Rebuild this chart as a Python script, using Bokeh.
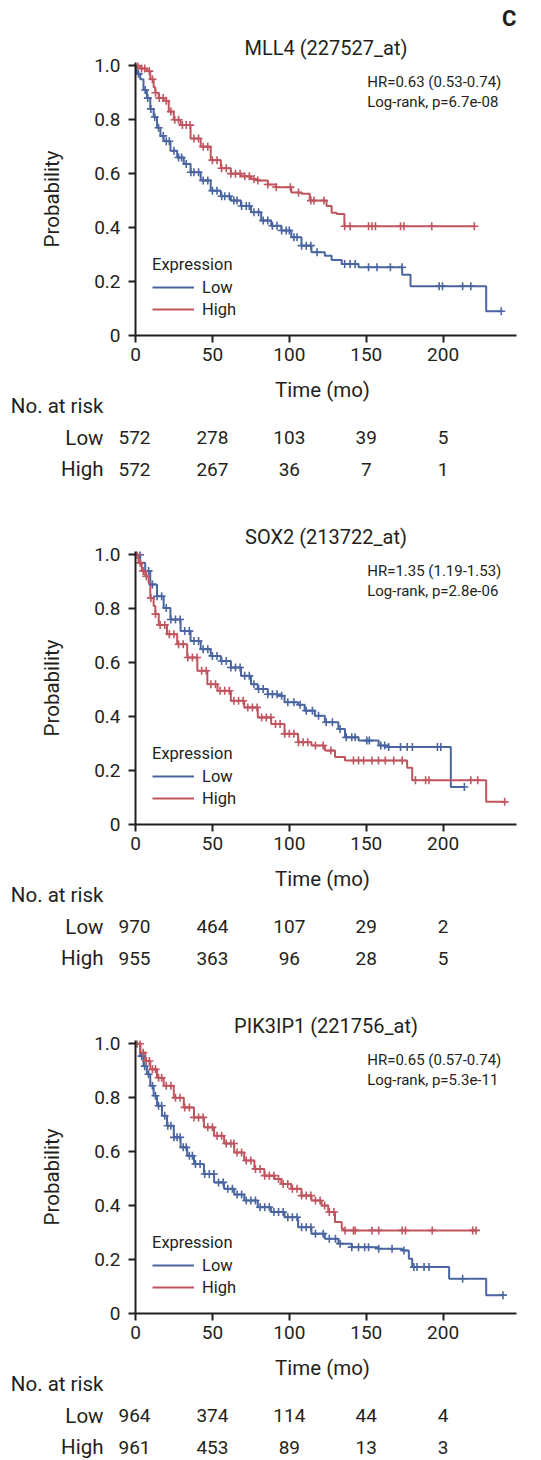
import numpy as np
from bokeh.plotting import figure
from bokeh.layouts import column
from bokeh.models import Range1d, FixedTicker, Label, Legend, LegendItem, Title, LinearAxis
from bokeh.core.properties import value
from bokeh.embed import file_html
from bokeh.resources import INLINE

FONT = "Roboto"
INK = "#231f20"
BLUE = "#4a65a0"
RED = "#c0555f"

# ---------------- data ----------------
x_ticks = [0, 50, 100, 150, 200]
y_ticks = [0, 0.2, 0.4, 0.6, 0.8, 1.0]
y_tick_labels = ["0", "0.2", "0.4", "0.6", "0.8", "1.0"]

titles = ["MLL4 (227527_at)", "SOX2 (213722_at)", "PIK3IP1 (221756_at)"]
hr_lines = ["HR=0.63 (0.53-0.74)", "HR=1.35 (1.19-1.53)", "HR=0.65 (0.57-0.74)"]
p_lines = ["Log-rank, p=6.7e-08", "Log-rank, p=2.8e-06", "Log-rank, p=5.3e-11"]

risk_groups = ["Low", "High"]
risk_low = [[572, 278, 103, 39, 5], [970, 464, 107, 29, 2], [964, 374, 114, 44, 4]]
risk_high = [[572, 267, 36, 7, 1], [955, 363, 96, 28, 5], [961, 453, 89, 13, 3]]

# MLL4
mll4_low_t = [0, 0.9, 3.1, 5.2, 7.4, 9.6, 11.8, 14, 16.2, 18.3, 22.7, 27.1, 31.4, 35.8, 42.4, 48.9,
              55.5, 62, 68.6, 75.1, 81.7, 88.2, 94.8, 101.3, 107.9, 114.4, 123.1, 127.5, 134.1, 145,
              173.4, 178.8, 228, 237.8]
mll4_low_s = [1.0, 0.97, 0.95, 0.91, 0.88, 0.84, 0.81, 0.77, 0.74, 0.72, 0.685, 0.66, 0.636, 0.605,
              0.575, 0.537, 0.516, 0.50, 0.48, 0.457, 0.426, 0.407, 0.389, 0.364, 0.333, 0.309, 0.296,
              0.28, 0.265, 0.253, 0.225, 0.183, 0.09, 0.09]
mll4_low_c = [2, 6.3, 8, 10, 12.5, 15, 18, 20, 22, 25, 28, 30, 33, 36, 38, 41, 44, 47, 50, 53, 56,
              58, 61, 64, 66, 69, 72, 74, 77, 80, 83, 86, 89, 92, 95, 98, 100, 103, 105, 108, 111,
              114, 118, 136, 139.5, 142.8, 151.5, 157, 165.7, 173.3, 197.4, 199.6, 212.7, 218, 237.8]
mll4_high_t = [0, 3.1, 7.4, 9.6, 11.8, 12.9, 15.1, 18.3, 21.6, 24.9, 29.3, 35.8, 42.4, 48.9, 55.5,
               62, 68.6, 75.1, 79.5, 86, 91.5, 101.3, 107.9, 113.3, 124.2, 127.5, 130.8, 135.8, 220.3]
mll4_high_s = [1.0, 0.99, 0.98, 0.95, 0.92, 0.90, 0.88, 0.87, 0.83, 0.80, 0.78, 0.73, 0.70, 0.65,
               0.62, 0.60, 0.59, 0.58, 0.575, 0.56, 0.55, 0.53, 0.525, 0.50, 0.48, 0.455, 0.45,
               0.405, 0.405]
mll4_high_c = [1.5, 4, 6, 9, 11, 13, 15.5, 18, 20, 23, 25.5, 28, 30.5, 33, 35.5, 38, 41, 44, 47,
               50, 53, 56, 59, 62, 65, 68, 71, 74, 77, 79.5, 86, 91.5, 100.7, 106, 114, 116,
               122.5, 136, 139.5, 151.5, 153.7, 156, 172.3, 174.5, 192.6, 220.3]

# SOX2
sox2_low_t = [0, 3.1, 6.3, 9.6, 14, 18.3, 22.7, 29.3, 35.8, 42.4, 48.9, 55.5, 62, 68.6, 75.1, 79.5,
              86, 92.6, 96.9, 105.7, 110, 116.6, 123.1, 131.9, 136.2, 145, 158.1, 164.6, 205, 213.8]
sox2_low_s = [1.0, 0.97, 0.94, 0.89, 0.846, 0.803, 0.76, 0.717, 0.68, 0.65, 0.625, 0.606, 0.582,
              0.551, 0.52, 0.502, 0.483, 0.477, 0.453, 0.444, 0.422, 0.403, 0.379, 0.354, 0.323,
              0.311, 0.293, 0.287, 0.139, 0.139]
sox2_low_c = [3, 8.5, 11, 14, 17, 20, 23, 26, 29, 32, 35, 38, 41, 44, 47, 50, 53, 56, 59, 62, 65,
              68, 71, 74, 77, 80, 83, 86, 89, 92, 95, 99, 103, 107, 111, 115, 119, 124, 128, 133,
              137, 140.6, 142.8, 150.4, 152, 159.5, 162, 164.6, 172.3, 176.6, 180, 196.3, 198.5,
              213.8]
sox2_high_t = [0, 2, 4.1, 6.3, 8.5, 9.6, 11.8, 12.9, 15.1, 20.5, 27.1, 33.6, 40.2, 46.7, 53.3, 62,
               70.7, 79.5, 88.2, 96.9, 105.7, 114.4, 123.1, 129.7, 136.2, 176.6, 179.9, 228, 240]
sox2_high_s = [1.0, 0.97, 0.94, 0.92, 0.895, 0.84, 0.81, 0.78, 0.74, 0.705, 0.668, 0.619, 0.57,
               0.52, 0.496, 0.459, 0.434, 0.397, 0.373, 0.336, 0.305, 0.293, 0.274, 0.25, 0.237,
               0.21, 0.164, 0.084, 0.084]
sox2_high_c = [1, 3, 5, 7, 10, 13, 16, 19, 22, 25, 28, 31, 34, 37, 40, 43, 46, 49, 52, 55, 58, 61,
               64, 67, 70, 73, 76, 79, 82, 85, 88, 91, 94, 97, 100, 103, 106, 109, 112, 117, 122,
               127, 141.7, 145, 148.3, 153.7, 158, 162.4, 167.9, 173.4, 182, 188.6, 190.8, 218,
               222.5, 240]

# PIK3IP1
pik_low_t = [0, 3.1, 5.2, 7.4, 9.6, 11.8, 14, 17.2, 20.5, 24.9, 29.3, 33.6, 38, 44.5, 51.1, 57.6,
             64.2, 70.7, 79.5, 88.2, 96.9, 105.7, 114.4, 123.1, 131.9, 140.6, 158.1, 173.4, 177.7,
             179.9, 203.9, 228, 238.9]
pik_low_s = [1.0, 0.954, 0.917, 0.887, 0.844, 0.807, 0.77, 0.733, 0.696, 0.653, 0.616, 0.585,
             0.554, 0.517, 0.486, 0.462, 0.441, 0.419, 0.394, 0.376, 0.357, 0.32, 0.296, 0.277,
             0.259, 0.246, 0.24, 0.234, 0.203, 0.172, 0.129, 0.068, 0.068]
pik_low_c = [4, 6, 8.5, 11, 13, 15, 17, 19, 21, 23, 25, 27, 29, 31, 33, 35, 37, 39, 42, 45, 48,
             51, 54, 57, 60, 63, 66, 69, 72, 75, 78, 81, 84, 87, 90, 93, 96, 99, 102, 105, 108,
             111, 114, 117, 122, 126, 130, 133, 140.6, 145, 149, 151.5, 158.1, 166.8, 174.5, 181,
             183, 187.6, 190.8, 212.7, 238.9]
pik_high_t = [0, 3.1, 6.3, 9.6, 14, 18.3, 24.9, 31.4, 38, 44.5, 51.1, 57.6, 64.2, 70.7, 77.3, 83.8,
              90.4, 94.8, 101.3, 107.9, 114.4, 121, 125.3, 129.7, 134.1, 135.2, 222.5]
pik_high_s = [1.0, 0.967, 0.936, 0.905, 0.874, 0.844, 0.80, 0.764, 0.727, 0.69, 0.659, 0.63,
              0.597, 0.567, 0.536, 0.511, 0.499, 0.48, 0.462, 0.437, 0.419, 0.40, 0.376, 0.339,
              0.314, 0.308, 0.308]
pik_high_c = [1, 3, 5, 7, 9, 11, 13, 15, 17, 20, 23, 26, 29, 32, 35, 38, 41, 44, 47, 50, 53, 56,
              59, 62, 64, 66, 69, 72, 75, 78, 81, 84, 87, 90, 93, 96, 99, 102, 105, 108, 111, 114,
              117, 120, 123, 126, 129, 136.2, 141.7, 142.8, 153.7, 158.1, 173.4, 175.5, 192.9,
              219.2, 221.4]

# ---------------- layout constants ----------------
FIG_W = 541
LEFT = 135          # frame left (px)
FRAME_W = 381
FRAME_H = 273
RIGHT = FIG_W - LEFT - FRAME_W
TOP = 62
BOTTOM = 40
X_MAX = 247.7
Y_MAX = 1.012
PX = FRAME_W / X_MAX  # px per month
PANEL_H = 489


def step_value(T, S, t):
    idx = np.searchsorted(np.asarray(T), np.asarray(t), side="right") - 1
    return np.asarray(S)[idx]


def txt_props(size, style="normal"):
    return dict(text_font=FONT, text_font_size=size, text_font_style=style, text_color=INK)


def style_axis(ax, label_size):
    ax.axis_line_width = 2
    ax.axis_line_color = INK
    ax.major_tick_line_width = 2
    ax.major_tick_line_color = INK
    ax.major_tick_out = 7
    ax.major_tick_in = 0
    ax.minor_tick_line_color = None
    ax.major_label_text_font = FONT
    ax.major_label_text_font_size = label_size
    ax.major_label_text_color = INK
    ax.axis_label_text_font = FONT
    ax.axis_label_text_font_size = "20.5px"
    ax.axis_label_text_font_style = "normal"
    ax.axis_label_text_color = INK


def km_panel(k, low, high, letter=None):
    (lt, ls, lc), (ht, hs, hc) = low, high
    p = figure(width=FIG_W, height=TOP + FRAME_H + BOTTOM,
               x_range=Range1d(0, X_MAX), y_range=Range1d(0, Y_MAX),
               output_backend="svg", toolbar_location=None, title=None,
               min_border_left=LEFT, min_border_right=RIGHT,
               min_border_top=TOP, min_border_bottom=BOTTOM)
    p.add_layout(Title(text=titles[k], align="center", standoff=6, **txt_props("20px")), "above")
    if letter:
        p.add_layout(Title(text=letter, align="right", standoff=0, **txt_props("22px", "bold")),
                     "above")
    p.outline_line_color = None
    p.xgrid.visible = False
    p.ygrid.visible = False

    r_low = p.step(x=lt, y=ls, mode="after", line_color=BLUE, line_width=2)
    r_high = p.step(x=ht, y=hs, mode="after", line_color=RED, line_width=2)
    p.scatter(x=lc, y=step_value(lt, ls, lc), marker="cross", size=8,
              line_color=BLUE, line_width=1.6)
    p.scatter(x=hc, y=step_value(ht, hs, hc), marker="cross", size=8,
              line_color=RED, line_width=1.6)

    p.xaxis.ticker = FixedTicker(ticks=x_ticks)
    p.yaxis.ticker = FixedTicker(ticks=y_ticks)
    p.yaxis.major_label_overrides = dict(zip(y_ticks, y_tick_labels))
    p.yaxis.axis_label = "Probability"
    style_axis(p.xaxis[0], "19px")
    style_axis(p.yaxis[0], "19px")
    p.yaxis.major_label_standoff = 8
    p.yaxis.axis_label_standoff = 27
    p.xaxis.major_label_standoff = 5

    leg = Legend(items=[LegendItem(label=risk_groups[0], renderers=[r_low]),
                        LegendItem(label=risk_groups[1], renderers=[r_high])],
                 title="Expression", location=(17, 16))
    leg.title_text_font = FONT
    leg.title_text_font_size = "16.5px"
    leg.title_text_font_style = "normal"
    leg.title_text_color = INK
    leg.title_standoff = 3
    leg.label_text_font = FONT
    leg.label_text_font_size = "16.5px"
    leg.label_text_color = INK
    leg.glyph_width = 42
    leg.glyph_height = 20
    leg.label_height = 20
    leg.label_standoff = 8
    leg.spacing = 2
    leg.padding = 0
    leg.margin = 0
    leg.border_line_color = None
    leg.background_fill_alpha = 0
    p.add_layout(leg)

    for txt, yy in ((hr_lines[k], 253.7), (p_lines[k], 233.7)):
        p.add_layout(Label(x=231.7, y=yy, x_units="screen", y_units="screen", text=txt,
                           text_align="left", text_baseline="alphabetic", **txt_props("15px")))
    return p


TABLE_ROWS = [30, 62, 93.5]   # px from the top of the table strip


def table_axis(ticks, labels, standoff, size):
    ax = LinearAxis(ticker=FixedTicker(ticks=ticks),
                    major_label_overrides=dict(zip(ticks, labels)))
    ax.axis_line_color = None
    ax.major_tick_line_color = None
    ax.minor_tick_line_color = None
    ax.major_tick_out = 0
    ax.major_tick_in = 0
    ax.major_label_standoff = standoff
    ax.major_label_text_font = FONT
    ax.major_label_text_font_size = size
    ax.major_label_text_color = INK
    return ax


def risk_table(k, height):
    # same horizontal scale and frame as the survival plot above it
    t = figure(width=FIG_W, height=height, output_backend="svg", toolbar_location=None,
               x_range=Range1d(0, X_MAX), y_range=Range1d(height, 0),
               x_axis_location=None, y_axis_location=None,
               min_border_left=LEFT, min_border_right=RIGHT,
               min_border_top=0, min_border_bottom=0, outline_line_color=None)
    t.grid.visible = False
    # the month-0 column sits across the frame edge: shown as tick labels of an inner axis
    first_col = [str(risk_low[k][0]), str(risk_high[k][0])]
    t.add_layout(table_axis(TABLE_ROWS[1:], first_col, -15, "19px"), "left")
    t.add_layout(table_axis(TABLE_ROWS, ["No. at risk"] + risk_groups, 12, "20.5px"), "left")

    t.text(x=[(322 - LEFT) / PX], y=[14], text=["Time (mo)"], text_align="center",
           text_baseline="middle", text_font=value(FONT), text_font_size="20.5px",
           text_color=INK)
    for counts, yy in ((risk_low[k], TABLE_ROWS[1]), (risk_high[k], TABLE_ROWS[2])):
        t.text(x=x_ticks[1:], y=[yy] * (len(x_ticks) - 1), text=[str(n) for n in counts[1:]],
               text_align="center", text_baseline="middle", text_font=value(FONT),
               text_font_size="19px", text_color=INK)
    return t


km1 = km_panel(0, (mll4_low_t, mll4_low_s, mll4_low_c), (mll4_high_t, mll4_high_s, mll4_high_c),
               letter="C")
km2 = km_panel(1, (sox2_low_t, sox2_low_s, sox2_low_c), (sox2_high_t, sox2_high_s, sox2_high_c))
km3 = km_panel(2, (pik_low_t, pik_low_s, pik_low_c), (pik_high_t, pik_high_s, pik_high_c))
KM_H = TOP + FRAME_H + BOTTOM
tb1 = risk_table(0, PANEL_H - KM_H)
tb2 = risk_table(1, PANEL_H - KM_H)
tb3 = risk_table(2, 1460 - 2 * PANEL_H - KM_H)

layout = column(km1, tb1, km2, tb2, km3, tb3, spacing=0)
open("out.html", "w").write(file_html(layout, INLINE))
